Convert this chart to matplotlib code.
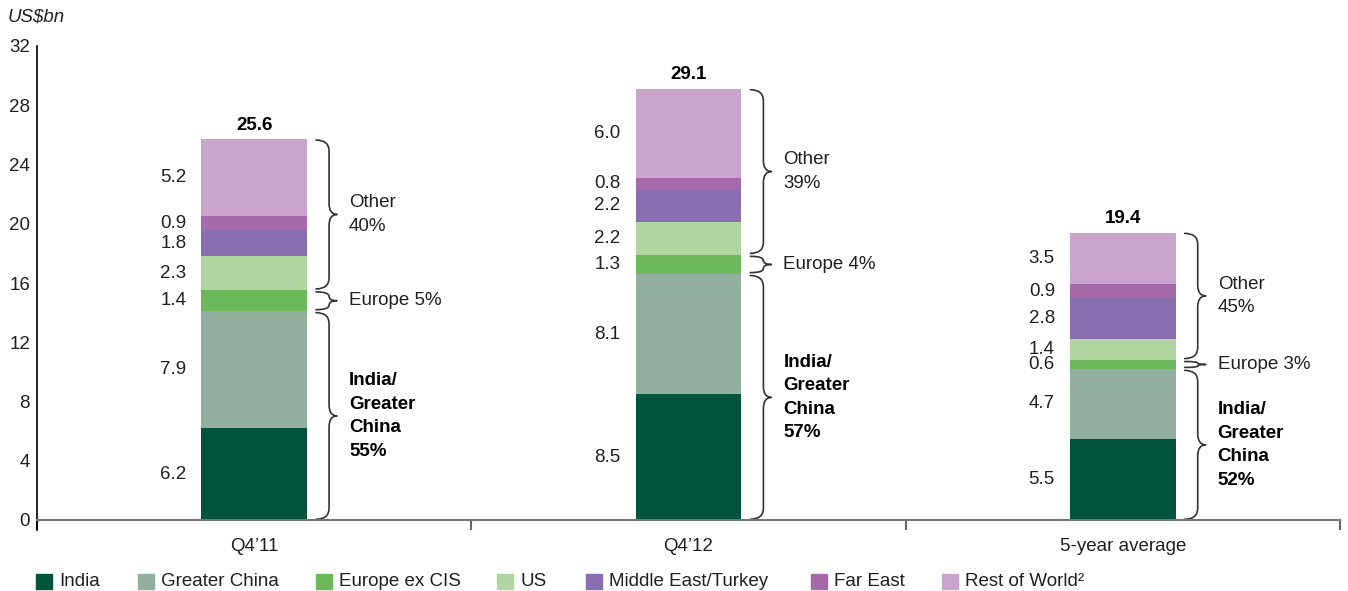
import matplotlib
matplotlib.use("Agg")
import matplotlib.pyplot as plt
from matplotlib.path import Path
from matplotlib.patches import PathPatch, Rectangle

plt.rcParams['font.family'] = ['Liberation Sans', 'DejaVu Sans']

categories = ["Q4\u201911", "Q4\u201912", "5-year average"]
series_names = ["India", "Greater China", "Europe ex CIS", "US",
                "Middle East/Turkey", "Far East", "Rest of World\u00b2"]
colors = ["#00543C", "#93AFA0", "#6CB85A", "#B1D5A1", "#886EAE", "#A66AAA", "#C9A5CD"]
india = [6.2, 8.5, 5.5]
greater_china = [7.9, 8.1, 4.7]
europe = [1.4, 1.3, 0.6]
us = [2.3, 2.2, 1.4]
middle_east = [1.8, 2.2, 2.8]
far_east = [0.9, 0.8, 0.9]
rest_of_world = [5.2, 6.0, 3.5]
totals = ["25.6", "29.1", "19.4"]
other_pct = ["Other\n40%", "Other\n39%", "Other\n45%"]
europe_pct = ["Europe 5%", "Europe 4%", "Europe 3%"]
igc_pct = ["India/\nGreater\nChina\n55%", "India/\nGreater\nChina\n57%", "India/\nGreater\nChina\n52%"]
yticks = [0, 4, 8, 12, 16, 20, 24, 28, 32]

series = [india, greater_china, europe, us, middle_east, far_east, rest_of_world]

W, H = 1348, 591
FS = 13.5
fig = plt.figure(figsize=(W / 100, H / 100), dpi=100)
ax = fig.add_axes([37 / W, 1 - 520 / H, 1303 / W, 474 / H])

txt_color = "#231f20"
bar_w = 106 / 435
x = list(range(len(categories)))

bottoms = [0.0] * len(categories)
seg_bounds = []
for vals, col in zip(series, colors):
    ax.bar(x, vals, width=bar_w, bottom=bottoms, color=col, linewidth=0)
    bnds = []
    for i, v in enumerate(vals):
        mid = bottoms[i] + v / 2
        ax.text(x[i] - bar_w / 2 - 15 / 435, mid, f"{v:.1f}", ha="right", va="center",
                fontsize=FS, color=txt_color)
        bnds.append((bottoms[i], bottoms[i] + v))
    seg_bounds.append(bnds)
    bottoms = [b + v for b, v in zip(bottoms, vals)]

for i in x:
    ax.annotate(totals[i], (x[i], bottoms[i]), xytext=(0, 4), textcoords="offset points",
                ha="center", va="bottom", fontsize=FS, fontweight="bold", color="black")


def brace(ax, xc, y0, y1):
    px = 1 / 435
    x_end = xc + 9 * px
    x_v = xc + 22 * px
    x_tip = xc + 30 * px
    span = y1 - y0
    r = min(0.75, span / 4)
    ym = (y0 + y1) / 2
    verts = [(x_end, y0), (x_v, y0), (x_v, y0 + r),
             (x_v, ym - r), (x_v, ym), (x_tip, ym),
             (x_v, ym), (x_v, ym + r),
             (x_v, y1 - r), (x_v, y1), (x_end, y1)]
    codes = [Path.MOVETO, Path.CURVE3, Path.CURVE3,
             Path.LINETO, Path.CURVE3, Path.CURVE3,
             Path.CURVE3, Path.CURVE3,
             Path.LINETO, Path.CURVE3, Path.CURVE3]
    ax.add_patch(PathPatch(Path(verts, codes), fill=False, lw=1.2, edgecolor="#333333",
                           capstyle="round", joinstyle="round"))
    return ym


gap = 0.1
for i in x:
    xr = x[i] + bar_w / 2
    tx = xr + 42 / 435
    # India / Greater China
    y0 = 0.05
    y1 = seg_bounds[1][i][1] - gap
    ym = brace(ax, xr, y0, y1)
    ax.text(tx, ym, igc_pct[i], ha="left", va="center", fontsize=FS, fontweight="bold",
            color="black", linespacing=1.5)
    # Europe
    y0 = seg_bounds[2][i][0] + gap
    y1 = seg_bounds[2][i][1] - gap
    ym = brace(ax, xr, y0, y1)
    ax.text(tx, ym, europe_pct[i], ha="left", va="center", fontsize=FS, color=txt_color)
    # Other
    y0 = seg_bounds[3][i][0] + gap
    y1 = seg_bounds[6][i][1] - 0.05
    ym = brace(ax, xr, y0, y1)
    ax.text(tx, ym, other_pct[i], ha="left", va="center", fontsize=FS, color=txt_color,
            linespacing=1.5)

ax.set_xlim(-0.5, 2.5)
ax.set_ylim(0, 32)
ax.set_yticks(yticks)
ax.set_yticklabels([str(t) for t in yticks], fontsize=FS, color=txt_color)
ax.tick_params(axis="y", length=0, pad=5)
ax.set_xticks(x)
ax.set_xticklabels(categories, fontsize=FS, color=txt_color)
ax.tick_params(axis="x", which="major", length=0, pad=13)
ax.set_xticks([-0.5, 0.5, 1.5, 2.5], minor=True)
ax.tick_params(axis="x", which="minor", length=7, width=1.5, color="#666666")
for s in ["top", "right"]:
    ax.spines[s].set_visible(False)
ax.spines["left"].set_color("black")
ax.spines["left"].set_linewidth(1.2)
ax.spines["bottom"].set_color("#777777")
ax.spines["bottom"].set_linewidth(1.5)
ax.plot([-0.5, -0.5], [0, -0.7], color="black", lw=1.2, clip_on=False)

fig.text(8 / W, 1 - 17 / H, "US$bn", fontsize=FS, style="italic", color=txt_color,
         ha="left", va="center")

leg_x = [36, 138, 316, 497, 586, 811, 942]
for lx, name, col in zip(leg_x, series_names, colors):
    fig.patches.append(Rectangle((lx / W, 1 - 589 / H), 16 / W, 15 / H, color=col,
                                 transform=fig.transFigure, figure=fig))
    fig.text((lx + 23) / W, 1 - 581.5 / H, name, fontsize=FS, color=txt_color,
             ha="left", va="center")

fig.savefig("out.png", dpi=100)
